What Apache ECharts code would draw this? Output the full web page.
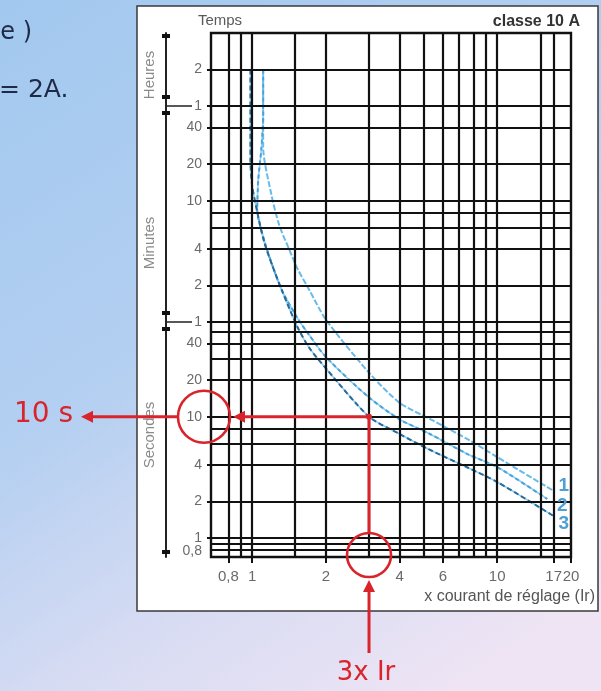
<!DOCTYPE html>
<html>
<head>
<meta charset="utf-8">
<title>classe 10 A</title>
<script src="https://cdn.jsdelivr.net/npm/echarts@6/dist/echarts.min.js"></script>
<style>
  html, body { margin: 0; padding: 0; }
  #main { width: 601px; height: 691px; }
</style>
</head>
<body>
<div id="main"></div>
<script>
// axes: x = multiple of the setting current (Ir), t = trip time in seconds
const xMin = 0.68, xMax = 20;
const tMin = 0.7, tMax = 14400;

// grid lines of the chart paper
const xGrid = [0.8, 0.9, 1, 1.5, 2, 3, 4, 5, 6, 7, 8, 9, 10, 15, 17];
const tGrid = [0.8, 0.9, 1, 2, 4, 6, 8, 10, 20, 30, 40, 50, 60, 120, 240, 360, 480, 600, 1200, 2400, 3600, 7200];

// tick labels
const xTicks = [0.8, 1, 2, 4, 6, 10, 17, 20];
const xTickLabels = ['0,8', '1', '2', '4', '6', '10', '17', '20'];
const tTicks = [0.8, 1, 2, 4, 10, 20, 40, 60, 120, 240, 600, 1200, 2400, 3600, 7200];
const tTickLabels = ['0,8', '1', '2', '4', '10', '20', '40', '1', '2', '4', '10', '20', '40', '1', '2'];
const unitBreaks = [3600, 60];   // 1 h, 1 min

// trip curves
const curveNames = ['1', '2', '3'];
const curve1X = [1.11, 1.11, 1.20, 1.29, 1.42, 1.54, 1.71, 2.0, 3.0, 4.0, 5.25, 7.6, 10, 17];
const curve1T = [7200, 1650, 668, 379, 236, 162, 111, 63, 23, 13, 9.7, 6.5, 4.65, 2.45];
const curve2X = [1.11, 1.11, 1.09, 1.06, 1.05, 1.12, 1.20, 1.32, 1.53, 1.71, 2.0, 3.0, 4.0, 5.25, 7.6, 10, 16];
const curve2T = [7200, 3000, 1560, 890, 500, 285, 185, 111, 65, 47, 31, 14.4, 9.5, 7.3, 4.9, 3.85, 2.1];
const curve3X = [0.985, 0.985, 1.0, 1.05, 1.12, 1.21, 1.33, 1.53, 1.71, 2.0, 3.0, 4.0, 5.25, 7.6, 10, 17];
const curve3T = [7200, 1290, 807, 484, 275, 175, 107, 55, 37, 25, 10, 7.2, 5.4, 3.8, 2.9, 1.52];

// reading shown in red
const readX = 3, readT = 10;

const labelFont = "'Liberation Sans', Arial, sans-serif";
const noteFont = "'DejaVu Sans', Verdana, sans-serif";
const red = '#d8242a';
const ink = '#111';
const tickGray = '#6a6a6a';

function pick(list, labels, v) {
    for (let i = 0; i < list.length; i++) {
        if (Math.abs(list[i] - v) / list[i] < 1e-6) return labels[i];
    }
    return '';
}

function curveSeries(xs, ts, color, width, dash, z) {
    return {
        type: 'line',
        z: z,
        smooth: 0.25,
        symbol: 'none',
        silent: true,
        data: xs.map((x, i) => [x, ts[i]]),
        lineStyle: { color: color, width: width, type: dash }
    };
}

const chart = echarts.init(document.getElementById('main'));

const option = {
    animation: false,
    grid: { left: 211, top: 33, width: 360, height: 524, show: true, borderColor: ink, borderWidth: 2.4 },
    xAxis: {
        type: 'log', min: xMin, max: xMax,
        axisLine: { show: false },
        axisTick: { show: true, customValues: xTicks, length: 6, lineStyle: { color: ink, width: 2 } },
        axisLabel: {
            customValues: xTicks,
            hideOverlap: false,
            formatter: v => pick(xTicks, xTickLabels, v),
            color: tickGray, fontSize: 15, margin: 12, fontFamily: labelFont
        },
        splitLine: { show: false }
    },
    yAxis: [
        {
            type: 'log', min: tMin, max: tMax,
            axisLine: { show: false },
            axisTick: { show: true, customValues: tTicks, length: 4, lineStyle: { color: ink, width: 2 } },
            axisLabel: {
                customValues: tTicks,
                hideOverlap: false,
                formatter: v => pick(tTicks, tTickLabels, v),
                color: tickGray, fontSize: 14, margin: 9, fontFamily: labelFont
            },
            splitLine: { show: false }
        },
        {
            // Heures / Minutes / Secondes bracket
            type: 'log', min: tMin, max: tMax, position: 'left', offset: 45,
            axisLine: { show: true, lineStyle: { color: '#222', width: 2 } },
            axisTick: { show: true, inside: true, length: 26, customValues: unitBreaks, lineStyle: { color: '#222', width: 1.5 } },
            axisLabel: { show: false },
            splitLine: { show: false }
        }
    ],
    series: [
        {
            type: 'line',
            z: 1,
            data: [],
            silent: true,
            markLine: {
                silent: true,
                symbol: ['none', 'none'],
                label: { show: false },
                lineStyle: { color: ink, width: 2.2, type: 'solid' },
                data: xGrid.map(v => ({ xAxis: v })).concat(tGrid.map(v => ({ yAxis: v })))
            }
        },
        curveSeries(curve1X, curve1T, '#69bbe8', 2, [6, 2], 4),
        curveSeries(curve2X, curve2T, '#8fd0f2', 1.6, 'solid', 3),
        curveSeries(curve2X, curve2T, '#4aa3da', 2, [4, 3], 4),
        curveSeries(curve3X, curve3T, '#8fd0f2', 1.6, 'solid', 3),
        curveSeries(curve3X, curve3T, '#2b6a96', 2, [5, 3], 4)
    ]
};

chart.setOption(option);

// annotations, placed from the chart's own scale
const toPx = (x, t) => chart.convertToPixel({ seriesIndex: 1 }, [x, t]);
const p = toPx(readX, readT);
const ends = [
    toPx(curve1X[curve1X.length - 1], curve1T[curve1T.length - 1]),
    toPx(curve2X[curve2X.length - 1], curve2T[curve2T.length - 1]),
    toPx(curve3X[curve3X.length - 1], curve3T[curve3T.length - 1])
];
// lowest time label gets dropped by the axis (too close to "1"), so it is set by hand at its scale position
const lowT = tTicks[0];
const lowY = toPx(1, lowT)[1];
const endShift = [[10, -5], [15, 7], [10, 8]];
const ring10 = { x: 204, r: 26 };
const ringIr = { y: 555, r: 22 };
const stroke = (w) => ({ stroke: red, lineWidth: w, fill: 'none' });

function leftArrow(x, y) {
    return { type: 'polygon', z: 60, shape: { points: [[x, y], [x + 12, y - 6], [x + 12, y + 6]] }, style: { fill: red } };
}
function upArrow(x, y) {
    return { type: 'polygon', z: 60, shape: { points: [[x, y], [x - 6, y + 12], [x + 6, y + 12]] }, style: { fill: red } };
}
function text(t, x, y, font, fill, align, rot) {
    return {
        type: 'text', z: 50, x: x, y: y, rotation: rot || 0,
        style: { text: t, font: font, fill: fill, textAlign: align || 'center', textVerticalAlign: 'middle' }
    };
}
function cap(y) {
    return { type: 'rect', z: 20, shape: { x: 162, y: y - 2, width: 8, height: 4 }, style: { fill: '#111' } };
}

const bg = new echarts.graphic.LinearGradient(0, 0, 0.75, 1, [
    { offset: 0, color: '#a2c8ef' },
    { offset: 0.45, color: '#b3cff1' },
    { offset: 0.75, color: '#d8dcf3' },
    { offset: 1, color: '#eee4f4' }
]);

const curveLabels = curveNames.map((n, i) =>
    text(n, ends[i][0] + endShift[i][0], ends[i][1] + endShift[i][1], 'bold 19px ' + labelFont, '#4f9fd3'));

chart.setOption({
    graphic: [
        { type: 'rect', z: -100, shape: { x: 0, y: 0, width: 601, height: 691 }, style: { fill: bg } },
        { type: 'rect', z: -90, shape: { x: 137, y: 6, width: 461, height: 605 }, style: { fill: '#fff', stroke: '#3a3a3a', lineWidth: 1.5 } },

        text('e )', 32, 33, '24px ' + noteFont, '#1e2a46', 'right'),
        text('= 2A.', -1, 90, '25px ' + noteFont, '#1e2a46', 'left'),

        text('Temps', 220, 21, '15px ' + labelFont, '#5a5a5a'),
        text('classe 10 A', 580, 22, 'bold 16px ' + labelFont, '#333', 'right'),
        text('x courant de réglage (Ir)', 595, 597, '16px ' + labelFont, '#555', 'right'),
        text('Heures', 150, 75, '15px ' + labelFont, '#8a8a8a', 'center', Math.PI / 2),
        text('Minutes', 150, 243, '15px ' + labelFont, '#8a8a8a', 'center', Math.PI / 2),
        text('Secondes', 150, 435, '15px ' + labelFont, '#8a8a8a', 'center', Math.PI / 2),
        text(pick(tTicks, tTickLabels, lowT), 202, lowY + 1, '14px ' + labelFont, tickGray, 'right'),

        cap(36), cap(97), cap(113), cap(313), cap(329), cap(552)
    ].concat(curveLabels, [
        // red reading: 3 x Ir -> 10 s
        { type: 'line', z: 55, shape: { x1: p[0], y1: p[1], x2: ring10.x + ring10.r + 14, y2: p[1] }, style: stroke(3) },
        leftArrow(ring10.x + ring10.r + 3, p[1]),
        { type: 'circle', z: 55, shape: { cx: ring10.x, cy: p[1], r: ring10.r }, style: stroke(2.6) },
        { type: 'line', z: 55, shape: { x1: ring10.x - ring10.r, y1: p[1], x2: 92, y2: p[1] }, style: stroke(3) },
        leftArrow(81, p[1]),
        text('10 s', 73, p[1] - 2, '28px ' + noteFont, red, 'right'),

        { type: 'line', z: 55, shape: { x1: p[0], y1: p[1], x2: p[0], y2: ringIr.y - ringIr.r }, style: stroke(3) },
        { type: 'circle', z: 55, shape: { cx: p[0], cy: p[1], r: 3 }, style: { fill: red } },
        { type: 'circle', z: 55, shape: { cx: p[0], cy: ringIr.y, r: ringIr.r }, style: stroke(2.6) },
        upArrow(p[0], ringIr.y + ringIr.r + 3),
        { type: 'line', z: 55, shape: { x1: p[0], y1: ringIr.y + ringIr.r + 14, x2: p[0], y2: 653 }, style: stroke(3) },
        text('3x Ir', p[0] - 3, 673, '26px ' + noteFont, red)
    ])
});

window.addEventListener('resize', function () {
    chart.resize();
});
</script>
</body>
</html>
